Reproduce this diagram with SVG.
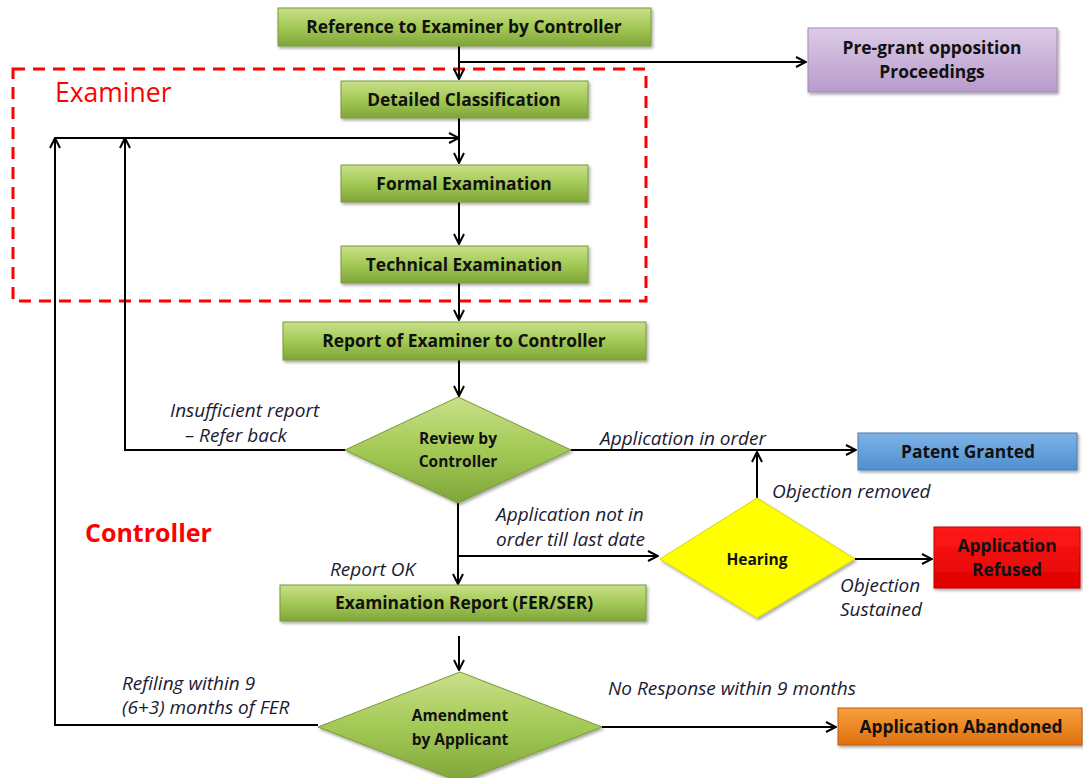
<svg xmlns="http://www.w3.org/2000/svg" width="1083" height="778" viewBox="0 0 1083 778">
  <style>
    .box { stroke-width: 1; filter: url(#shadow); }
    .green { fill: url(#gGreen); stroke: #7a9a38; }
    .purple { fill: url(#gPurple); stroke: #a58bb5; }
    .blue { fill: url(#gBlue); stroke: #4a7fb5; }
    .red { fill: url(#gRed); stroke: #c00000; }
    .orange { fill: url(#gOrange); stroke: #c55a11; }
    .yellow { fill: #ffff00; stroke: #d8d800; }
    .lbl { font-family: "Open Sans", "Liberation Sans", sans-serif; font-weight: bold; font-size: 17.4px; fill: #111; text-anchor: middle; }
    .dlbl { font-family: "Open Sans", "Liberation Sans", sans-serif; font-weight: bold; font-size: 15.5px; fill: #111; text-anchor: middle; }
    .note { font-family: "Open Sans", "Liberation Sans", sans-serif; font-style: italic; font-size: 19px; fill: #1a1a33; }
    .title { font-family: "Open Sans", "Liberation Sans", sans-serif; fill: #ff0000; }
    .conn { stroke: #000; stroke-width: 2; fill: none; }
  </style>
  <defs>
    <linearGradient id="gGreen" x1="0" y1="0" x2="0" y2="1">
      <stop offset="0" stop-color="#c9e08a"/>
      <stop offset="0.5" stop-color="#a3c955"/>
      <stop offset="1" stop-color="#7fa53a"/>
    </linearGradient>
    <linearGradient id="gPurple" x1="0" y1="0" x2="0" y2="1">
      <stop offset="0" stop-color="#dccbe6"/>
      <stop offset="1" stop-color="#b89bcc"/>
    </linearGradient>
    <linearGradient id="gBlue" x1="0" y1="0" x2="0" y2="1">
      <stop offset="0" stop-color="#7fb3e6"/>
      <stop offset="1" stop-color="#4f8fcf"/>
    </linearGradient>
    <linearGradient id="gRed" x1="0" y1="0" x2="0" y2="1">
      <stop offset="0" stop-color="#ff1a1a"/>
      <stop offset="1" stop-color="#e00000"/>
    </linearGradient>
    <linearGradient id="gOrange" x1="0" y1="0" x2="0" y2="1">
      <stop offset="0" stop-color="#f7a040"/>
      <stop offset="1" stop-color="#e0700e"/>
    </linearGradient>
    <filter id="shadow" x="-10%" y="-20%" width="120%" height="150%">
      <feDropShadow dx="1.5" dy="2" stdDeviation="1.5" flood-color="#000" flood-opacity="0.35"/>
    </filter>
    <marker id="arr" viewBox="0 0 12 12" refX="11" refY="6" markerWidth="12" markerHeight="12" markerUnits="userSpaceOnUse" orient="auto">
      <path d="M1,1 L11,6 L1,11" fill="none" stroke="#000" stroke-width="2"/>
    </marker>
  </defs>

  <!-- examiner zone -->
  <rect x="13" y="69" width="633" height="232" fill="none" stroke="#ff0000" stroke-width="3" stroke-dasharray="12,8"/>
  <text class="title" x="55" y="102" font-size="26.5">Examiner</text>
  <text class="title" x="85" y="542" font-size="25" font-weight="bold">Controller</text>

  <!-- connectors -->
  <g id="connectors">
    <path class="conn" d="M459,46 V79" marker-end="url(#arr)"/>
    <path class="conn" d="M459,62 H806" marker-end="url(#arr)"/>
    <path class="conn" d="M459,118 V163" marker-end="url(#arr)"/>
    <path class="conn" d="M55,138 H459" marker-end="url(#arr)"/>
    <path class="conn" d="M459,202 V244" marker-end="url(#arr)"/>
    <path class="conn" d="M459,283 V320" marker-end="url(#arr)"/>
    <path class="conn" d="M459,360 V396" marker-end="url(#arr)"/>
    <path class="conn" d="M345,450 H125 V138" marker-end="url(#arr)"/>
    <path class="conn" d="M571,450 H856" marker-end="url(#arr)"/>
    <path class="conn" d="M757,498 V452" marker-end="url(#arr)"/>
    <path class="conn" d="M855,559 H932" marker-end="url(#arr)"/>
    <path class="conn" d="M458,503 V584" marker-end="url(#arr)"/>
    <path class="conn" d="M458,556 H658" marker-end="url(#arr)"/>
    <path class="conn" d="M459,636 V670" marker-end="url(#arr)"/>
    <path class="conn" d="M318,725 H55 V138" marker-end="url(#arr)"/>
    <path class="conn" d="M602,727 H836" marker-end="url(#arr)"/>
  </g>

  <g id="n-reference">
    <rect class="box green" x="278" y="8" width="373" height="38"/>
    <text class="lbl" x="464" y="33">Reference to Examiner by Controller</text>
  </g>
  <g id="n-pregrant">
    <rect class="box purple" x="808" y="28" width="249" height="64"/>
    <text class="lbl" x="932" y="54">Pre-grant opposition</text>
    <text class="lbl" x="932" y="78">Proceedings</text>
  </g>
  <g id="n-classification">
    <rect class="box green" x="341" y="81" width="247" height="37"/>
    <text class="lbl" x="464" y="106">Detailed Classification</text>
  </g>
  <g id="n-formal">
    <rect class="box green" x="341" y="165" width="247" height="37"/>
    <text class="lbl" x="464" y="190">Formal Examination</text>
  </g>
  <g id="n-technical">
    <rect class="box green" x="341" y="246" width="247" height="37"/>
    <text class="lbl" x="464" y="271">Technical Examination</text>
  </g>
  <g id="n-report">
    <rect class="box green" x="283" y="322" width="363" height="38"/>
    <text class="lbl" x="464" y="347">Report of Examiner to Controller</text>
  </g>
  <g id="n-review">
    <polygon class="box green" points="458,397 571,450 458,503 345,450"/>
    <text class="dlbl" x="458" y="444">Review by</text>
    <text class="dlbl" x="458" y="467">Controller</text>
  </g>
  <g id="n-granted">
    <rect class="box blue" x="858" y="433" width="219" height="37"/>
    <text class="lbl" x="968" y="458">Patent Granted</text>
  </g>
  <g id="n-hearing">
    <polygon class="box yellow" points="757,498 855,559 757,618 660,559"/>
    <text class="dlbl" x="757" y="565">Hearing</text>
  </g>
  <g id="n-refused">
    <rect class="box red" x="934" y="527" width="146" height="61"/>
    <text class="lbl" x="1007" y="552">Application</text>
    <text class="lbl" x="1007" y="576">Refused</text>
  </g>
  <g id="n-fer">
    <rect class="box green" x="280" y="585" width="366" height="36"/>
    <text class="lbl" x="464" y="609">Examination Report (FER/SER)</text>
  </g>
  <g id="n-amendment">
    <polygon class="box green" points="460,672 602,727 460,782 318,727"/>
    <text class="dlbl" x="460" y="721">Amendment</text>
    <text class="dlbl" x="460" y="745">by Applicant</text>
  </g>
  <g id="n-abandoned">
    <rect class="box orange" x="838" y="708" width="244" height="37"/>
    <text class="lbl" x="961" y="733">Application Abandoned</text>
  </g>

  <!-- edge labels -->
  <text class="note" x="170" y="417">Insufficient report</text>
  <text class="note" x="185" y="442">– Refer back</text>
  <text class="note" x="600" y="445">Application in order</text>
  <text class="note" x="772" y="498">Objection removed</text>
  <text class="note" x="496" y="521">Application not in</text>
  <text class="note" x="496" y="546">order till last date</text>
  <text class="note" x="840" y="592">Objection</text>
  <text class="note" x="840" y="616">Sustained</text>
  <text class="note" x="330" y="576">Report OK</text>
  <text class="note" x="122" y="690">Refiling within 9</text>
  <text class="note" x="122" y="714">(6+3) months of FER</text>
  <text class="note" x="608" y="695">No Response within 9 months</text>
</svg>
